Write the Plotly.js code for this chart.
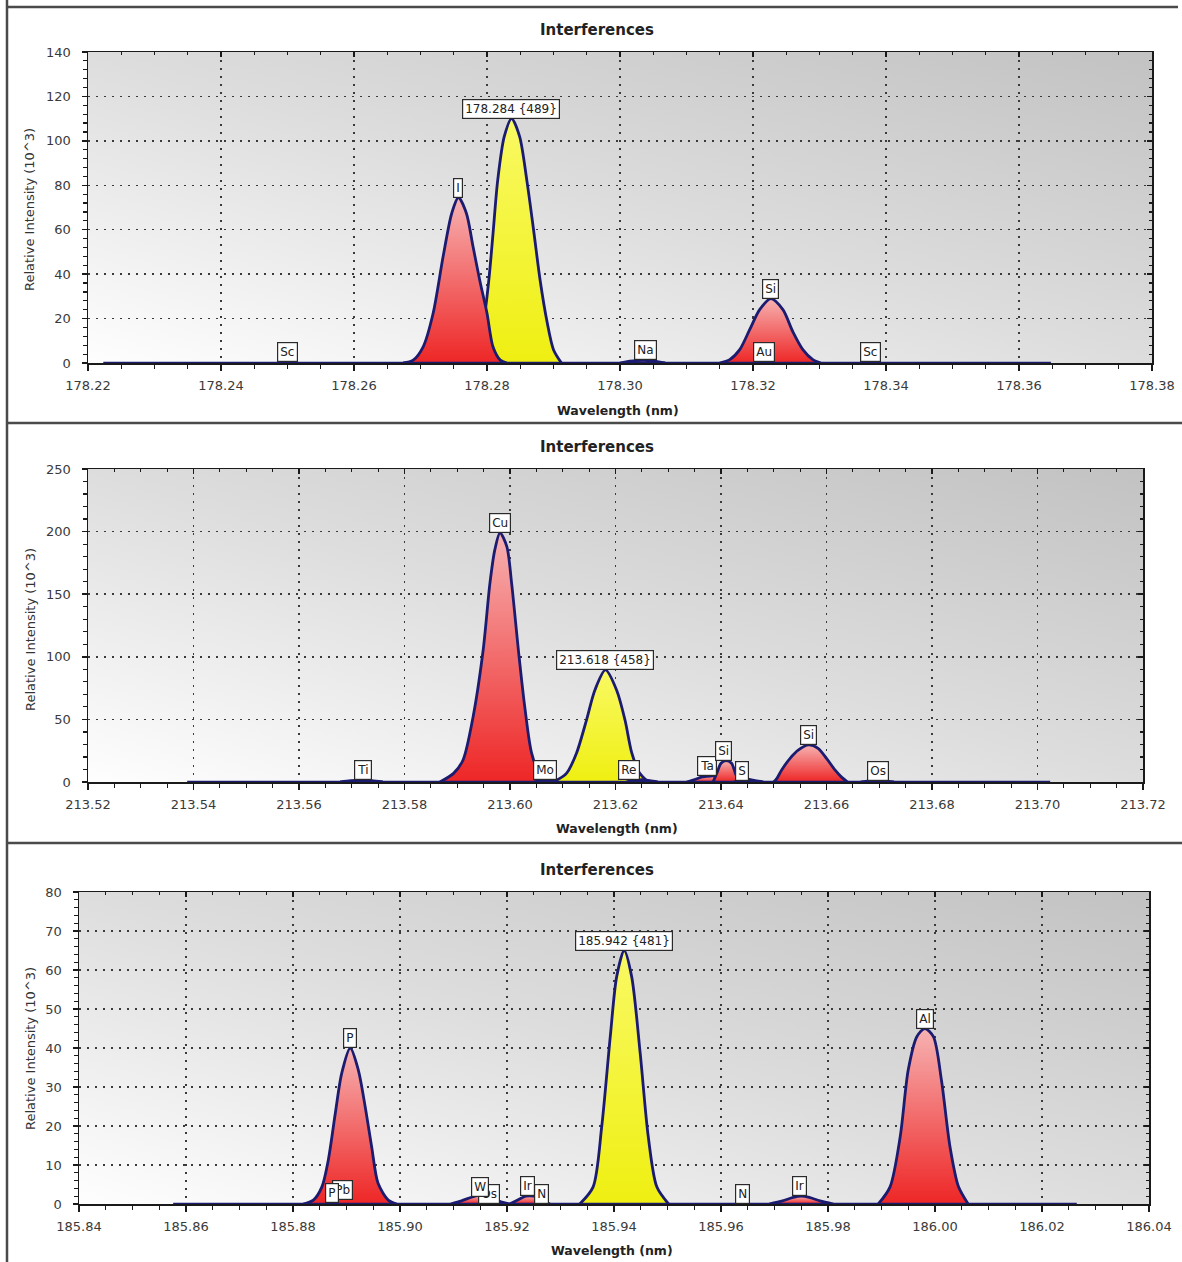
<!DOCTYPE html>
<html><head><meta charset="utf-8">
<script src="https://cdn.plot.ly/plotly-3.0.1.min.js"></script>
<style>html,body{margin:0;padding:0;background:#fff}#chart{width:1182px;height:1262px}</style>
</head><body><div id="chart"></div>
<script>
// ================= DATA =================
// Panel 1 (178.284 nm)
const P1_RANGE_X = [178.22, 178.38];
const P1_RANGE_Y = [0, 140];
const P1_BASE_X = [178.2223, 178.3648];
const P1_BASE_Y = [0, 0];
const P1_I_X = [178.2674, 178.2689, 178.2704, 178.2719, 178.2734, 178.2747, 178.2757, 178.2769, 178.2779, 178.2789, 178.2800, 178.2809, 178.2820, 178.2830];
const P1_I_Y = [0, 1.3, 7.3, 22.4, 47.9, 67.4, 74.5, 67.4, 52.4, 37.4, 22.4, 7.3, 1.3, 0];
const P1_AN_X = [178.2780, 178.2789, 178.2796, 178.2803, 178.2809, 178.2816, 178.2826, 178.2837, 178.2849, 178.2860, 178.2870, 178.2880, 178.2890, 178.2900, 178.2912];
const P1_AN_Y = [0, 5, 20, 38, 58, 82, 102, 110, 102, 82, 60, 37, 19, 6, 0];
const P1_NA_X = [178.3000, 178.3015, 178.3035, 178.3052, 178.3068];
const P1_NA_Y = [0, 0.8, 1.2, 0.8, 0];
const P1_AU_X = [178.3185, 178.3205, 178.3220, 178.3240, 178.3260];
const P1_AU_Y = [0, 1, 1.5, 1, 0];
const P1_SI_X = [178.3150, 178.3165, 178.3180, 178.3195, 178.3210, 178.3227, 178.3245, 178.3260, 178.3275, 178.3290, 178.3302];
const P1_SI_Y = [0, 1.5, 6, 15, 24, 29, 24, 14, 6, 1.5, 0];
const P1_LABEL_TEXT = ['Sc', 'I', '178.284 {489}', 'Na', 'Si', 'Au', 'Sc'];
const P1_LABEL_X = [178.2500, 178.2757, 178.2836, 178.3039, 178.3227, 178.3217, 178.3377];
const P1_LABEL_Y = [0.3, 74.5, 110, 1.2, 29, 0.4, 0.3];

// Panel 2 (213.618 nm)
const P2_RANGE_X = [213.52, 213.72];
const P2_RANGE_Y = [0, 250];
const P2_BASE_X = [213.5388, 213.7024];
const P2_BASE_Y = [0, 0];
const P2_TI_X = [213.5678, 213.5698, 213.5718, 213.5738, 213.5759];
const P2_TI_Y = [0, 1, 1.5, 1, 0];
const P2_CU_X = [213.5867, 213.5893, 213.5911, 213.5930, 213.5949, 213.5962, 213.5971, 213.5981, 213.5994, 213.6003, 213.6016, 213.6028, 213.6041, 213.6057, 213.6076];
const P2_CU_Y = [0, 6.9, 17.6, 52, 105, 159, 185, 199, 188, 159, 105, 60, 23, 5.6, 0];
const P2_MO_X = [213.6045, 213.6060, 213.6075, 213.6090, 213.6105];
const P2_MO_Y = [0, 1.5, 2, 1.2, 0];
const P2_AN_X = [213.6082, 213.6107, 213.6126, 213.6145, 213.6161, 213.6181, 213.6202, 213.6218, 213.6231, 213.6246, 213.6262];
const P2_AN_Y = [0, 6.9, 23, 49.5, 73.5, 89.5, 73.5, 49.5, 23, 6.9, 0];
const P2_RE_X = [213.6220, 213.6235, 213.6250, 213.6265, 213.6280];
const P2_RE_Y = [0, 1.2, 1.8, 1, 0];
const P2_TA_X = [213.6335, 213.6350, 213.6365, 213.6380, 213.6395, 213.6410, 213.6425];
const P2_TA_Y = [0, 2, 4, 4.8, 4.5, 2.5, 0];
const P2_SIA_X = [213.6385, 213.6393, 213.6400, 213.6410, 213.6420, 213.6428, 213.6435];
const P2_SIA_Y = [0, 8, 15, 17, 15, 6, 0];
const P2_S_X = [213.6425, 213.6437, 213.6450, 213.6465, 213.6480];
const P2_S_Y = [0, 2, 2.2, 1, 0];
const P2_SIB_X = [213.6500, 213.6506, 213.6515, 213.6531, 213.6547, 213.6566, 213.6584, 213.6600, 213.6616, 213.6629, 213.6640];
const P2_SIB_Y = [0, 2.9, 9.6, 18.9, 25.6, 29.6, 26.9, 18.9, 9.6, 3.7, 0];
const P2_OS_X = [213.6665, 213.6680, 213.6697, 213.6712, 213.6728];
const P2_OS_Y = [0, 0.8, 1.2, 0.8, 0];
const P2_LABEL_TEXT = ['Ti', 'Cu', 'Mo', '213.618 {458}', 'Re', 'Ta', 'Si', 'S', 'Si', 'Os'];
const P2_LABEL_X = [213.5721, 213.5981, 213.6066, 213.6181, 213.6225, 213.6373, 213.6404, 213.6440, 213.6566, 213.6697];
const P2_LABEL_Y = [1.5, 199, 2, 89.5, 1.8, 5, 17, 1.2, 29.6, 1.2];

// Panel 3 (185.942 nm)
const P3_RANGE_X = [185.84, 186.04];
const P3_RANGE_Y = [0, 80];
const P3_BASE_X = [185.8576, 186.0265];
const P3_BASE_Y = [0, 0];
const P3_P_X = [185.8819, 185.8838, 185.8854, 185.8866, 185.8879, 185.8891, 185.8907, 185.8922, 185.8935, 185.8947, 185.8959, 185.8978, 185.8994];
const P3_P_Y = [0, 1, 4.4, 11.3, 23.2, 33.5, 40, 34.4, 24.9, 14.7, 5.3, 1, 0];
const P3_W_X = [185.9095, 185.9115, 185.9135, 185.9150, 185.9170, 185.9190, 185.9205];
const P3_W_Y = [0, 0.8, 1.8, 2.2, 1.5, 0.5, 0];
const P3_IRA_X = [185.9205, 185.9220, 185.9235, 185.9250, 185.9265, 185.9280];
const P3_IRA_Y = [0, 1, 2, 2, 1, 0];
const P3_AN_X = [185.9336, 185.9361, 185.9377, 185.9393, 185.9405, 185.9419, 185.9433, 185.9449, 185.9464, 185.9480, 185.9502];
const P3_AN_Y = [0, 4.4, 19.8, 42.9, 58.3, 65, 58.3, 38.6, 17.3, 4.4, 0];
const P3_IRB_X = [185.9690, 185.9715, 185.9735, 185.9750, 185.9765, 185.9785, 185.9810];
const P3_IRB_Y = [0, 0.8, 1.7, 2, 1.7, 0.8, 0];
const P3_AL_X = [185.9894, 185.9916, 185.9935, 185.9950, 185.9966, 185.9981, 185.9997, 186.0012, 186.0028, 186.0044, 186.0062];
const P3_AL_Y = [0, 4.4, 17.3, 34.4, 42.9, 45, 42.9, 31.8, 14.7, 4.4, 0];
const P3_LABEL_TEXT = ['Pb', 'P', 'P', 'Os', 'W', 'N', 'Ir', '185.942 {481}', 'N', 'Ir', 'Al'];
const P3_LABEL_X = [185.8892, 185.8872, 185.8907, 185.9166, 185.9150, 185.9264, 185.9239, 185.9419, 185.9640, 185.9747, 185.9981];
const P3_LABEL_Y = [1.0, 0.3, 40, 0.1, 1.9, 0, 2, 65, 0, 2, 45];

const TITLE_TEXT = 'Interferences';
const XTITLE_TEXT = 'Wavelength (nm)';
const YTITLE_TEXT = 'Relative Intensity (10^3)';

// ================= STYLE / LAYOUT =================
const W = 1182, H = 1262;
const NAVY = '#1b1b70';
const FONT = 'DejaVu Sans, Verdana, sans-serif';
const RED_GRAD = {type: 'vertical', colorscale: [[0, '#ee2626'], [1, '#f7b2b2']]};
const YEL_GRAD = {type: 'vertical', colorscale: [[0, '#efef12'], [1, '#f9f964']]};

// pixel geometry of each plot area
const PANELS = [
  {x0: 88, x1: 1152, y0: 52, y1: 363, rx: P1_RANGE_X, ry: P1_RANGE_Y, dy: 20, mdy: 4, title: 30, xt: 410, xtx: 618, yt: 210},
  {x0: 88, x1: 1143, y0: 469, y1: 782, rx: P2_RANGE_X, ry: P2_RANGE_Y, dy: 50, mdy: 10, title: 447, xt: 828, xtx: 617, yt: 630},
  {x0: 79, x1: 1149, y0: 892, y1: 1204, rx: P3_RANGE_X, ry: P3_RANGE_Y, dy: 10, mdy: 2, title: 870, xt: 1250, xtx: 612, yt: 1049}
];

const PEAKS = [
  [[P1_NA_X, P1_NA_Y, 'r'], [P1_AU_X, P1_AU_Y, 'r'], [P1_SI_X, P1_SI_Y, 'r'], [P1_AN_X, P1_AN_Y, 'y'], [P1_I_X, P1_I_Y, 'r']],
  [[P2_TI_X, P2_TI_Y, 'r'], [P2_CU_X, P2_CU_Y, 'r'], [P2_MO_X, P2_MO_Y, 'r'], [P2_AN_X, P2_AN_Y, 'y'], [P2_RE_X, P2_RE_Y, 'r'],
   [P2_TA_X, P2_TA_Y, 'r'], [P2_SIA_X, P2_SIA_Y, 'r'], [P2_S_X, P2_S_Y, 'r'], [P2_SIB_X, P2_SIB_Y, 'r'], [P2_OS_X, P2_OS_Y, 'r']],
  [[P3_P_X, P3_P_Y, 'r'], [P3_W_X, P3_W_Y, 'r'], [P3_IRA_X, P3_IRA_Y, 'r'], [P3_AN_X, P3_AN_Y, 'y'], [P3_IRB_X, P3_IRB_Y, 'r'], [P3_AL_X, P3_AL_Y, 'r']]
];
const BASES = [[P1_BASE_X, P1_BASE_Y], [P2_BASE_X, P2_BASE_Y], [P3_BASE_X, P3_BASE_Y]];
const LABELS = [[P1_LABEL_TEXT, P1_LABEL_X, P1_LABEL_Y], [P2_LABEL_TEXT, P2_LABEL_X, P2_LABEL_Y], [P3_LABEL_TEXT, P3_LABEL_X, P3_LABEL_Y]];

const px = v => v / W;
const py = v => 1 - v / H;

const gradSvg = "<svg xmlns='http://www.w3.org/2000/svg' viewBox='0 0 100 100' preserveAspectRatio='none' width='100' height='100'>" +
  "<defs><linearGradient id='g' x1='0' y1='1' x2='1' y2='0'>" +
  "<stop offset='0' stop-color='#fefefe'/><stop offset='0.5' stop-color='#dddddd'/><stop offset='1' stop-color='#c2c2c2'/>" +
  "</linearGradient></defs><rect x='0' y='0' width='100' height='100' fill='url(#g)'/></svg>";
const gradURI = 'data:image/svg+xml;base64,' + btoa(gradSvg);

const traces = [];
const layout = {
  width: W, height: H,
  margin: {l: 0, r: 0, t: 0, b: 0},
  paper_bgcolor: '#ffffff',
  plot_bgcolor: 'rgba(0,0,0,0)',
  showlegend: false,
  font: {family: FONT, color: '#333'},
  annotations: [], shapes: [], images: []
};

PANELS.forEach((p, i) => {
  const n = i + 1;
  const xs = n === 1 ? '' : String(n);
  const xid = 'x' + xs, yid = 'y' + xs;
  const xo = 'x' + (n + 3), yo = 'y' + (n + 3);
  const xdom = [px(p.x0), px(p.x1)];
  const ydom = [py(p.y1), py(p.y0)];
  const axisCommon = {
    showline: true, linecolor: '#1a1a1a', linewidth: 1.5, zeroline: false,
    tickcolor: '#1a1a1a', fixedrange: true
  };
  layout['xaxis' + xs] = Object.assign({}, axisCommon, {
    domain: xdom, range: p.rx, anchor: yid,
    tick0: p.rx[0], dtick: 0.02, tickformat: '.2f',
    ticks: 'outside', ticklen: 6, tickwidth: 1.5, ticklabelstandoff: 4,
    tickfont: {family: FONT, size: 13, color: '#3a3a3a'},
    showgrid: true, gridcolor: '#3a3a3a', gridwidth: 1.5, griddash: '1.5px,6.5px',
    minor: {dtick: 0.005, tick0: p.rx[0], ticks: 'outside', ticklen: 4, tickwidth: 1.2, tickcolor: '#1a1a1a', showgrid: false}
  });
  layout['yaxis' + xs] = Object.assign({}, axisCommon, {
    domain: ydom, range: p.ry, anchor: xid,
    tick0: 0, dtick: p.dy,
    ticks: 'outside', ticklen: 5, tickwidth: 1.5, ticklabelstandoff: 8,
    tickfont: {family: FONT, size: 13, color: '#3a3a3a'},
    showgrid: true, gridcolor: '#3a3a3a', gridwidth: 1.5, griddash: '1.5px,6.5px',
    minor: {dtick: p.mdy, tick0: 0, ticks: 'outside', ticklen: 4, tickwidth: 1.2, tickcolor: '#1a1a1a', showgrid: false}
  });
  // mirrored frame with inward ticks (top and right)
  layout['xaxis' + (n + 3)] = Object.assign({}, axisCommon, {
    overlaying: xid, anchor: yid, side: 'top', range: p.rx,
    tick0: p.rx[0], dtick: 0.02, ticks: 'inside', ticklen: 5, tickwidth: 1.5,
    showticklabels: false, showgrid: false,
    minor: {dtick: 0.005, tick0: p.rx[0], ticks: 'inside', ticklen: 3, tickwidth: 1.2, tickcolor: '#1a1a1a', showgrid: false}
  });
  layout['yaxis' + (n + 3)] = Object.assign({}, axisCommon, {
    overlaying: yid, anchor: xid, side: 'right', range: p.ry,
    tick0: 0, dtick: p.dy, ticks: 'inside', ticklen: 5, tickwidth: 1.5,
    showticklabels: false, showgrid: false,
    minor: {dtick: p.mdy, tick0: 0, ticks: 'inside', ticklen: 3, tickwidth: 1.2, tickcolor: '#1a1a1a', showgrid: false}
  });
  traces.push({type: 'scatter', x: [], y: [], xaxis: xo, yaxis: yid, hoverinfo: 'skip'});
  traces.push({type: 'scatter', x: [], y: [], xaxis: xid, yaxis: yo, hoverinfo: 'skip'});

  // gradient background of the plot area
  layout.images.push({
    source: gradURI, xref: 'paper', yref: 'paper',
    x: xdom[0], y: ydom[1], sizex: xdom[1] - xdom[0], sizey: ydom[1] - ydom[0],
    xanchor: 'left', yanchor: 'top', sizing: 'stretch', layer: 'below'
  });

  // peaks
  PEAKS[i].forEach(([xv, yv, kind]) => {
    traces.push({
      type: 'scatter', mode: 'lines', x: xv, y: yv, xaxis: xid, yaxis: yid,
      line: {color: NAVY, width: 2.8, shape: 'spline', smoothing: 0.8},
      fill: 'tozeroy',
      fillgradient: kind === 'y' ? YEL_GRAD : RED_GRAD,
      hoverinfo: 'skip'
    });
  });
  // baseline of the scan
  traces.push({
    type: 'scatter', mode: 'lines', x: BASES[i][0], y: BASES[i][1], xaxis: xid, yaxis: yid,
    line: {color: NAVY, width: 2.6}, hoverinfo: 'skip'
  });

  // peak labels
  const [lt, lx, ly] = LABELS[i];
  lt.forEach((t, k) => {
    layout.annotations.push({
      text: t, x: lx[k], y: ly[k], xref: xid, yref: yid,
      xanchor: 'center', yanchor: 'bottom', showarrow: false,
      bgcolor: '#ffffff', bordercolor: '#2a2a2a', borderwidth: 1.2, borderpad: 2,
      font: {family: FONT, size: 12, color: '#222'}
    });
  });

  // titles
  layout.annotations.push({
    text: '<b>' + TITLE_TEXT + '</b>', xref: 'paper', yref: 'paper',
    x: px(597), y: py(p.title), xanchor: 'center', yanchor: 'middle', showarrow: false,
    font: {family: FONT, size: 15, color: '#222'}
  });
  layout.annotations.push({
    text: '<b>' + XTITLE_TEXT + '</b>', xref: 'paper', yref: 'paper',
    x: px(p.xtx), y: py(p.xt), xanchor: 'center', yanchor: 'middle', showarrow: false,
    font: {family: FONT, size: 12.5, color: '#222'}
  });
  layout.annotations.push({
    text: YTITLE_TEXT, xref: 'paper', yref: 'paper', textangle: -90,
    x: px(30), y: py(p.yt), xanchor: 'center', yanchor: 'middle', showarrow: false,
    font: {family: FONT, size: 13, color: '#333'}
  });
});

// window frames around the three panels
const frameLine = (x0, y0, x1, y1) => ({
  type: 'line', xref: 'paper', yref: 'paper', x0: px(x0), y0: py(y0), x1: px(x1), y1: py(y1),
  line: {color: '#4a4a4a', width: 2.5}, layer: 'above'
});
layout.shapes.push(frameLine(7, 0, 7, 1262));
layout.shapes.push(frameLine(7, 7, 1178, 7));
layout.shapes.push(frameLine(7, 423, 1182, 423));
layout.shapes.push(frameLine(7, 843, 1182, 843));

Plotly.newPlot('chart', traces, layout, {staticPlot: true, displayModeBar: false});
</script>
</body></html>
